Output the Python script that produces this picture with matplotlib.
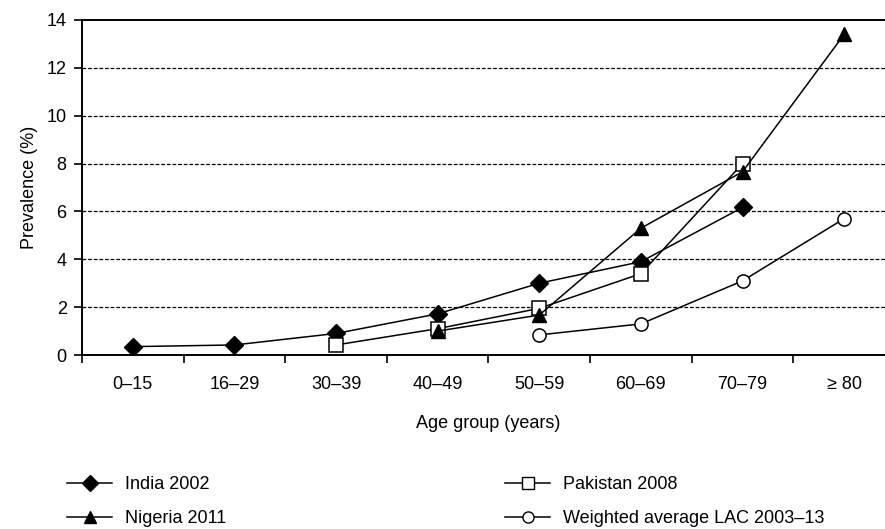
import matplotlib.pyplot as plt
from matplotlib.lines import Line2D

plt.rcParams['font.family'] = ['Liberation Sans', 'DejaVu Sans']

age_groups = ['0–15', '16–29', '30–39', '40–49', '50–59', '60–69', '70–79', '≥ 80']

# prevalence (%) per age group, None where not reported
india_2002 = [0.35, 0.42, 0.9, 1.72, 3.0, 3.9, 6.17, None]
pakistan_2008 = [None, None, 0.42, 1.1, 1.95, 3.4, 8.0, None]
nigeria_2011 = [None, None, None, 1.0, 1.67, 5.3, 7.66, 13.4]
lac_2003_13 = [None, None, None, None, 0.84, 1.3, 3.1, 5.7]


def pts(values):
    xs = [i for i, v in enumerate(values) if v is not None]
    ys = [v for v in values if v is not None]
    return xs, ys


fig = plt.figure(figsize=(8.85, 5.29), dpi=100)
ax = fig.add_axes([82 / 885, 174 / 529, 813 / 885, 335 / 529])

style = dict(color='black', lw=1.1)
x, y = pts(india_2002)
ax.plot(x, y, marker='D', ms=9.5, mfc='black', mec='black', **style)
x, y = pts(pakistan_2008)
ax.plot(x, y, marker='s', ms=9.5, mfc='white', mec='black', mew=1.1, **style)
x, y = pts(nigeria_2011)
ax.plot(x, y, marker='^', ms=10, mfc='black', mec='black', **style)
x, y = pts(lac_2003_13)
ax.plot(x, y, marker='o', ms=9.5, mfc='white', mec='black', mew=1.1, **style)

ax.set_xlim(-0.5, 7.5)
ax.set_ylim(0, 14)
ax.set_yticks(range(0, 15, 2))
for yy in range(2, 13, 2):
    ax.axhline(yy, color='black', lw=0.9, ls=(0, (3, 1.5)), zorder=0)

# ticks at group boundaries, labels at group centres
ax.set_xticks([i - 0.5 for i in range(9)])
ax.set_xticklabels([])
ax.set_xticks(range(8), minor=True)
ax.set_xticklabels(age_groups, minor=True, fontsize=13)
ax.tick_params(axis='x', which='major', direction='out', length=6, width=1.2)
ax.tick_params(axis='x', which='minor', length=0, pad=15)
ax.tick_params(axis='y', direction='out', length=6, width=1.2, labelsize=13, pad=5)

for side in ['left', 'bottom', 'top']:
    ax.spines[side].set_linewidth(1.4)
ax.spines['right'].set_visible(False)

ax.set_ylabel('Prevalence (%)', fontsize=13, labelpad=6)
ax.set_xlabel('Age group (years)', fontsize=13, labelpad=16)

h_india = Line2D([], [], color='black', lw=1.1, marker='D', ms=8, mfc='black')
h_nigeria = Line2D([], [], color='black', lw=1.1, marker='^', ms=9, mfc='black')
h_pak = Line2D([], [], color='black', lw=1.1, marker='s', ms=9, mfc='white')
h_lac = Line2D([], [], color='black', lw=1.1, marker='o', ms=8, mfc='white')

legend_kw = dict(loc='upper left', frameon=False, fontsize=13, handlelength=2.5,
                 handletextpad=0.7, labelspacing=0.95)
fig.legend([h_india, h_nigeria], ['India 2002', 'Nigeria 2011'],
           bbox_to_anchor=(51 / 885, 1 - 460 / 529), **legend_kw)
fig.legend([h_pak, h_lac], ['Pakistan 2008', 'Weighted average LAC 2003–13'],
           bbox_to_anchor=(489 / 885, 1 - 460 / 529), **legend_kw)

fig.savefig('out.png', dpi=100)
